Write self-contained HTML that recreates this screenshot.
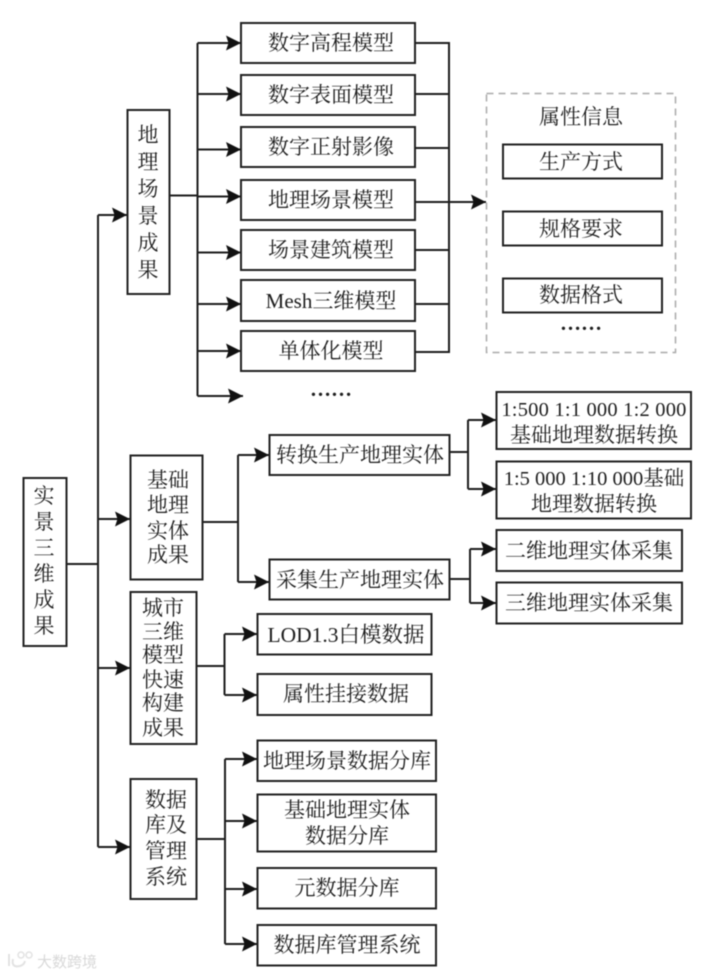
<!DOCTYPE html>
<html lang="zh">
<head>
<meta charset="utf-8">
<title>实景三维成果</title>
<style>
html,body{margin:0;padding:0;background:#fff;width:728px;height:976px;overflow:hidden}
svg{display:block;filter:blur(.5px)}
text{font-family:"Liberation Serif","Noto Serif CJK SC",serif;font-size:21px;fill:#1e1e1e;text-anchor:middle}
.n{font-size:20.5px}
.d{font-size:21px;font-weight:700}
.b{fill:#fff;stroke:#222;stroke-width:2}
.l{fill:none;stroke:#1e1e1e;stroke-width:2}
</style>
</head>
<body>
<svg width="728" height="976" viewBox="0 0 728 976" xmlns="http://www.w3.org/2000/svg">
<defs>
<marker id="a" markerUnits="userSpaceOnUse" markerWidth="18" markerHeight="18" refX="15" refY="9" orient="auto">
<path d="M0 1.500 L15 9 L0 16.500 L2.500 9 Z" fill="#111"/>
</marker>
</defs>

<!-- main connectors -->
<path class="l" d="M66 564H98M98 215V847"/>
<path class="l" d="M98 215H127" marker-end="url(#a)"/>
<path class="l" d="M98 519H130" marker-end="url(#a)"/>
<path class="l" d="M98 668H130" marker-end="url(#a)"/>
<path class="l" d="M98 847H130" marker-end="url(#a)"/>

<!-- geo connectors -->
<path class="l" d="M169 195.500H197.500M197.500 43V396"/>
<path class="l" d="M197.500 43H241" marker-end="url(#a)"/>
<path class="l" d="M197.500 94H241" marker-end="url(#a)"/>
<path class="l" d="M197.500 149.500H241" marker-end="url(#a)"/>
<path class="l" d="M197.500 196.500H241" marker-end="url(#a)"/>
<path class="l" d="M197.500 252.500H241" marker-end="url(#a)"/>
<path class="l" d="M197.500 304H241" marker-end="url(#a)"/>
<path class="l" d="M197.500 351H241" marker-end="url(#a)"/>
<path class="l" d="M197.500 396H243" marker-end="url(#a)"/>

<!-- collector -->
<path class="l" d="M415 43H449V352H415M415 94H449M415 148H449M415 250H449M415 304H449"/>
<path class="l" d="M415 202H486" marker-end="url(#a)"/>

<!-- basic connectors -->
<path class="l" d="M202 522H238M238 455V582"/>
<path class="l" d="M238 455H269" marker-end="url(#a)"/>
<path class="l" d="M238 582H269" marker-end="url(#a)"/>
<path class="l" d="M450 452H468M468 420V489"/>
<path class="l" d="M468 420H496" marker-end="url(#a)"/>
<path class="l" d="M468 489H496" marker-end="url(#a)"/>
<path class="l" d="M450 579H470M470 549V603"/>
<path class="l" d="M470 549H496" marker-end="url(#a)"/>
<path class="l" d="M470 603H496" marker-end="url(#a)"/>

<!-- city connectors -->
<path class="l" d="M196 666H224.500M224.500 634V695"/>
<path class="l" d="M224.500 634H257" marker-end="url(#a)"/>
<path class="l" d="M224.500 695H257" marker-end="url(#a)"/>

<!-- database connectors -->
<path class="l" d="M196 839H225M225 759V944"/>
<path class="l" d="M225 759H257" marker-end="url(#a)"/>
<path class="l" d="M225 821H257" marker-end="url(#a)"/>
<path class="l" d="M225 889H257" marker-end="url(#a)"/>
<path class="l" d="M225 944H257" marker-end="url(#a)"/>

<!-- root -->
<rect class="b" x="23.500" y="478" width="43" height="168"/>
<text x="44" y="503">实</text><text x="44" y="529">景</text><text x="44" y="555">三</text><text x="44" y="581">维</text><text x="44" y="607">成</text><text x="44" y="633">果</text>

<!-- geo -->
<rect class="b" x="127.500" y="110" width="42" height="184"/>
<text x="148" y="142">地</text><text x="148" y="169">理</text><text x="148" y="196">场</text><text x="148" y="223">景</text><text x="148" y="250">成</text><text x="148" y="277">果</text>

<rect class="b" x="241" y="23" width="174" height="40"/><text x="331" y="50">数字高程模型</text>
<rect class="b" x="241" y="75" width="174" height="40"/><text x="331" y="102">数字表面模型</text>
<rect class="b" x="241" y="127" width="174" height="40"/><text x="331" y="154">数字正射影像</text>
<rect class="b" x="241" y="180" width="174" height="40"/><text x="331" y="207">地理场景模型</text>
<rect class="b" x="241" y="230" width="174" height="40"/><text x="331" y="257">场景建筑模型</text>
<rect class="b" x="241" y="280" width="174" height="41"/><text x="331" y="308">Mesh三维模型</text>
<rect class="b" x="241" y="331" width="174" height="40"/><text x="331" y="358">单体化模型</text>
<text class="d" x="331" y="396">……</text>

<!-- attributes -->
<rect x="486.500" y="93.500" width="189" height="259" fill="none" stroke="#aaa" stroke-width="1.500" stroke-dasharray="7 5"/>
<text x="581" y="124">属性信息</text>
<rect class="b" x="503" y="144.500" width="159" height="34"/><text x="581" y="169">生产方式</text>
<rect class="b" x="503" y="211.500" width="159" height="34"/><text x="581" y="236">规格要求</text>
<rect class="b" x="503" y="278.500" width="159" height="34"/><text x="581" y="302">数据格式</text>
<text class="d" x="581" y="330">……</text>

<!-- basic -->
<rect class="b" x="130.500" y="455.500" width="72" height="124"/>
<text x="168" y="487">基础</text><text x="168" y="512">地理</text><text x="168" y="538">实体</text><text x="168" y="562">成果</text>

<rect class="b" x="269.500" y="435" width="180" height="40"/><text x="360" y="462">转换生产地理实体</text>
<rect class="b" x="269.500" y="559.500" width="180" height="40"/><text x="360" y="587">采集生产地理实体</text>

<rect class="b" x="496.500" y="392" width="194.500" height="57"/>
<text class="n" x="594" y="416" style="letter-spacing:.2px">1:500 1:1 000 1:2 000</text>
<text x="594" y="442">基础地理数据转换</text>
<rect class="b" x="496.500" y="461.500" width="194.500" height="57"/>
<text class="n" x="594" y="485">1:5 000 1:10 000基础</text>
<text x="594" y="511">地理数据转换</text>
<rect class="b" x="496.500" y="530" width="185.500" height="41"/><text x="589" y="558">二维地理实体采集</text>
<rect class="b" x="496.500" y="582.500" width="185.500" height="41"/><text x="589" y="610">三维地理实体采集</text>

<!-- city -->
<rect class="b" x="130.500" y="592" width="66" height="152"/>
<text x="163" y="615">城市</text><text x="163" y="639">三维</text><text x="163" y="662">模型</text><text x="163" y="687">快速</text><text x="163" y="710">构建</text><text x="163" y="735">成果</text>

<rect class="b" x="257.500" y="614" width="174" height="40.500"/><text x="346" y="642" style="font-size:21.500px">LOD1.3白模数据</text>
<rect class="b" x="257.500" y="674" width="174" height="41"/><text x="346" y="701">属性挂接数据</text>

<!-- database -->
<rect class="b" x="130.500" y="779" width="66" height="120"/>
<text x="166" y="807">数据</text><text x="166" y="832">库及</text><text x="166" y="858">管理</text><text x="166" y="884">系统</text>

<rect class="b" x="257.500" y="740.500" width="178.500" height="40.500"/><text x="347" y="768">地理场景数据分库</text>
<rect class="b" x="257.500" y="794.500" width="178.500" height="57"/>
<text x="347" y="817">基础地理实体</text>
<text x="347" y="843">数据分库</text>
<rect class="b" x="257.500" y="868" width="178.500" height="40.500"/><text x="347" y="895">元数据分库</text>
<rect class="b" x="257.500" y="925" width="178.500" height="40.500"/><text x="347" y="952">数据库管理系统</text>

<!-- watermark -->
<g opacity=".85">
<path d="M9 954V966M13 959Q11 968 20 966Q24 965 25 961" fill="none" stroke="#ddd" stroke-width="2"/>
<circle cx="21" cy="955" r="3" fill="none" stroke="#ddd" stroke-width="1.500"/>
<circle cx="29" cy="955" r="3" fill="none" stroke="#ddd" stroke-width="1.500"/>
<text x="67" y="967" style="font-size:15px;fill:#d2d2d2;font-family:'Liberation Sans','Noto Sans CJK SC',sans-serif">大数跨境</text>
</g>
</svg>
</body>
</html>
